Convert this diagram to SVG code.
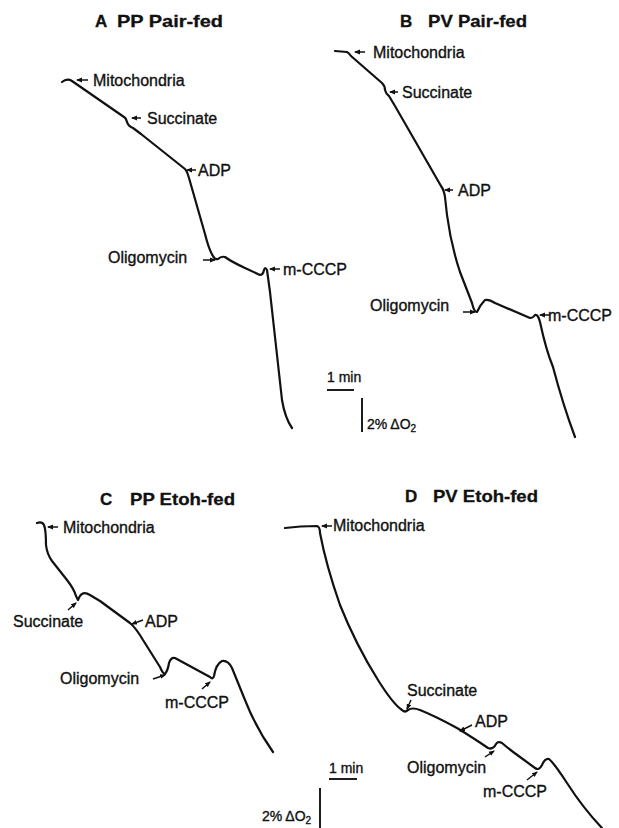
<svg xmlns="http://www.w3.org/2000/svg" width="619" height="828" viewBox="0 0 619 828">
<defs>
<marker id="ah" markerWidth="6" markerHeight="6" refX="5" refY="3" orient="auto" markerUnits="userSpaceOnUse">
<path d="M0,0.6 L6,3 L0,5.4 Z" fill="#111"/>
</marker>
<style>
.trace{fill:none;stroke:#111;stroke-width:2.2;stroke-linejoin:round;stroke-linecap:round}
.arr{fill:none;stroke:#111;stroke-width:1.5;marker-end:url(#ah)}
.lbl{font-family:"Liberation Sans",Arial,sans-serif;font-size:16px;fill:#111;stroke:#111;stroke-width:0.35}
.ttl{font-family:"Liberation Sans",Arial,sans-serif;font-size:17px;font-weight:bold;fill:#111;stroke:#111;stroke-width:0.3}
.sc{font-family:"Liberation Sans",Arial,sans-serif;font-size:14px;fill:#111;stroke:#111;stroke-width:0.35}
.bar{stroke:#111;stroke-width:1.9;fill:none}
</style>
</defs>
<rect width="619" height="828" fill="#fff"/>

<g id="panelA">
<text class="ttl" x="95" y="27">A</text>
<text class="ttl" x="117" y="27" textLength="106" lengthAdjust="spacingAndGlyphs">PP Pair-fed</text>
<path class="trace" d="M62,82 Q67,78 72,81 L124,117 Q126,118 127,122 Q128,126 133,128 L141,134 L185,169 Q187,171 189,178 L205,234 Q209,250 213,256 Q215,260 218,259 Q221,256 225,257 Q232,262 245,268 L260,275 Q263,275 264,270 Q265,266 267,270 L270,292 L282,400 Q285,418 292,428"/>
<line class="arr" x1="88" y1="80" x2="77" y2="80"/>
<line class="arr" x1="141" y1="118" x2="132" y2="118"/>
<line class="arr" x1="196" y1="170" x2="187" y2="170"/>
<line class="arr" x1="203" y1="260" x2="215" y2="260"/>
<line class="arr" x1="280" y1="269" x2="270" y2="269"/>
<text class="lbl" x="93" y="86">Mitochondria</text>
<text class="lbl" x="147" y="124">Succinate</text>
<text class="lbl" x="198" y="176">ADP</text>
<text class="lbl" x="108" y="263">Oligomycin</text>
<text class="lbl" x="283" y="275">m-CCCP</text>
</g>

<g id="panelB">
<text class="ttl" x="400" y="27">B</text>
<text class="ttl" x="428" y="27" textLength="99" lengthAdjust="spacingAndGlyphs">PV Pair-fed</text>
<path class="trace" d="M335,51 L347,52 Q349,53 351,56 L382,83 Q385,86 385,90 Q386,94 389,96 L395,106 L441,186 Q444,190 445,197 L447,215 Q451,245 460,272 L472,303 Q474,312 477,312 Q480,305 485,300 Q489,299 495,303 L530,318 Q533,318 535,315 Q538,314 540,322 Q546,350 553,367 Q563,405 575,437"/>
<line class="arr" x1="365" y1="52" x2="355" y2="52"/>
<line class="arr" x1="398" y1="92" x2="390" y2="92"/>
<line class="arr" x1="453" y1="190" x2="445" y2="190"/>
<line class="arr" x1="463" y1="312" x2="475" y2="312"/>
<line class="arr" x1="550" y1="315" x2="540" y2="315"/>
<text class="lbl" x="373" y="58">Mitochondria</text>
<text class="lbl" x="402" y="98">Succinate</text>
<text class="lbl" x="458" y="196">ADP</text>
<text class="lbl" x="370" y="311">Oligomycin</text>
<text class="lbl" x="548" y="321">m-CCCP</text>
</g>

<g id="scaleB">
<text class="sc" x="327" y="382">1 min</text>
<line class="bar" x1="327" y1="390" x2="354" y2="390"/>
<line class="bar" x1="362" y1="398" x2="362" y2="432"/>
<text class="sc" x="367" y="429">2% ΔO<tspan font-size="10" dy="3">2</tspan></text>
</g>

<g id="panelC">
<text class="ttl" x="100" y="505">C</text>
<text class="ttl" x="130" y="505" textLength="105" lengthAdjust="spacingAndGlyphs">PP Etoh-fed</text>
<path class="trace" d="M37,523 Q42,521 44,525 Q46,530 46,545 Q47,554 52,561 L67,580 Q74,589 76,596 L78,600 Q80,595 82,594 Q85,592 90,595 L100,601 L130,623 Q136,628 143,640 L160,667 Q163,674 165,674 Q168,670 169,663 Q171,657 175,658 L210,677 Q213,680 214,676 Q216,664 222,661 Q228,660 232,668 L245,700 Q256,728 273,752"/>
<line class="arr" x1="58" y1="527" x2="48" y2="527"/>
<line class="arr" x1="68" y1="610" x2="76" y2="603"/>
<line class="arr" x1="143" y1="620" x2="132" y2="624"/>
<line class="arr" x1="153" y1="679" x2="165" y2="675"/>
<line class="arr" x1="202" y1="689" x2="210" y2="682"/>
<text class="lbl" x="63" y="533">Mitochondria</text>
<text class="lbl" x="13" y="627">Succinate</text>
<text class="lbl" x="145" y="627">ADP</text>
<text class="lbl" x="60" y="684">Oligomycin</text>
<text class="lbl" x="165" y="708">m-CCCP</text>
</g>

<g id="panelD">
<text class="ttl" x="405" y="502">D</text>
<text class="ttl" x="433" y="502" textLength="105" lengthAdjust="spacingAndGlyphs">PV Etoh-fed</text>
<path class="trace" d="M285,528 Q300,526 317,526 Q320,527 320,533 Q326,565 340,605 Q356,645 378,680 Q393,704 402,710 Q405,713 408,710 Q412,707 420,710 Q435,716 457,728 Q475,739 488,748 Q493,750 496,744 Q498,741 502,743 Q510,750 520,757 L535,768 Q539,771 542,765 Q545,758 549,759 Q554,763 567,783 Q583,808 602,828"/>
<line class="arr" x1="332" y1="526" x2="322" y2="526"/>
<line class="arr" x1="411" y1="700" x2="407" y2="709"/>
<line class="arr" x1="472" y1="725" x2="460" y2="731"/>
<line class="arr" x1="485" y1="757" x2="494" y2="751"/>
<line class="arr" x1="527" y1="780" x2="537" y2="772"/>
<text class="lbl" x="333" y="531">Mitochondria</text>
<text class="lbl" x="407" y="696">Succinate</text>
<text class="lbl" x="475" y="727">ADP</text>
<text class="lbl" x="407" y="773">Oligomycin</text>
<text class="lbl" x="483" y="797">m-CCCP</text>
</g>

<g id="scaleD">
<text class="sc" x="329" y="773">1 min</text>
<line class="bar" x1="329" y1="779" x2="357" y2="779"/>
<line class="bar" x1="320" y1="788" x2="320" y2="828"/>
<text class="sc" x="262" y="821">2% ΔO<tspan font-size="10" dy="3">2</tspan></text>
</g>
</svg>
